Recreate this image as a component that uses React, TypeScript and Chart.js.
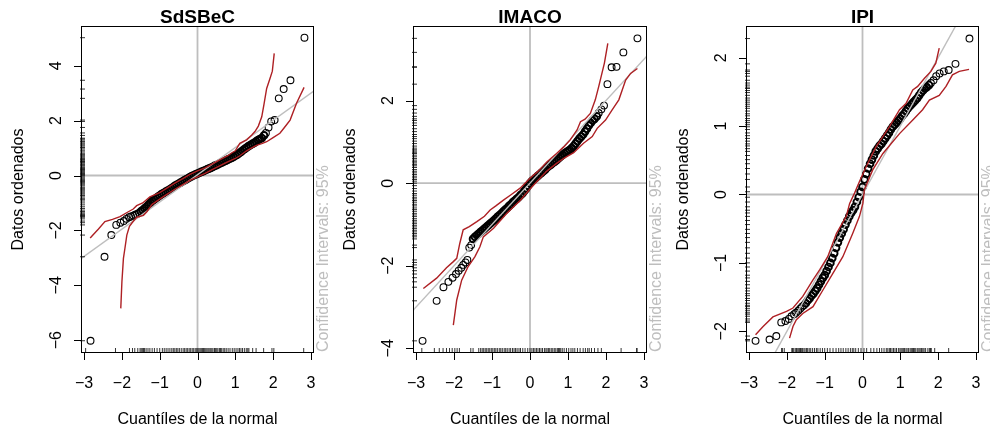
import React, { useEffect, useRef } from "react";
import { Chart, registerables } from "chart.js";
Chart.register(...registerables);

// Theoretical normal quantiles (x of every QQ point), shared by the three panels
const normalQuantiles = [
  -2.83, -2.46, -2.28, -2.15, -2.04, -1.95, -1.88, -1.81, -1.76, -1.70, -1.65, -1.60, -1.55, -1.50,
  -1.45, -1.40, -1.35, -1.30, -1.25, -1.20, -1.15, -1.10, -1.05, -1.00, -0.95, -0.90, -0.85, -0.80,
  -0.75, -0.70, -0.65, -0.60, -0.55, -0.50, -0.45, -0.40, -0.35, -0.30, -0.25, -0.20, -0.15, -0.10,
  -0.05, 0.00, 0.05, 0.10, 0.15, 0.20, 0.25, 0.30, 0.35, 0.40, 0.45, 0.50, 0.55, 0.60, 0.65, 0.70,
  0.75, 0.80, 0.85, 0.90, 0.95, 1.00, 1.05, 1.10, 1.15, 1.20, 1.25, 1.30, 1.35, 1.40, 1.45, 1.50,
  1.55, 1.60, 1.65, 1.70, 1.76, 1.81, 1.88, 1.95, 2.04, 2.15, 2.28, 2.46, 2.83,
];

// Ordered data per panel
const sdsbecValues = [
  -6.02, -2.96, -2.17, -1.80, -1.72, -1.66, -1.58, -1.52, -1.49, -1.46, -1.43, -1.40, -1.36, -1.31,
  -1.26, -1.20, -1.14, -1.07, -1.00, -0.93, -0.88, -0.83, -0.78, -0.73, -0.68, -0.64, -0.60, -0.56,
  -0.52, -0.48, -0.43, -0.38, -0.34, -0.30, -0.26, -0.22, -0.18, -0.14, -0.10, -0.06, -0.02, 0.01,
  0.04, 0.07, 0.10, 0.13, 0.16, 0.19, 0.22, 0.25, 0.28, 0.31, 0.35, 0.38, 0.41, 0.45, 0.48, 0.51,
  0.54, 0.58, 0.61, 0.64, 0.68, 0.72, 0.76, 0.81, 0.86, 0.92, 0.97, 1.02, 1.07, 1.11, 1.15, 1.19,
  1.24, 1.29, 1.33, 1.36, 1.46, 1.55, 1.75, 1.97, 2.02, 2.81, 3.15, 3.47, 5.02,
];
const imacoValues = [
  -3.82, -2.85, -2.52, -2.39, -2.29, -2.20, -2.12, -2.05, -1.98, -1.92, -1.86, -1.56, -1.50, -1.35,
  -1.30, -1.26, -1.22, -1.18, -1.14, -1.10, -1.06, -1.02, -0.98, -0.94, -0.90, -0.86, -0.81, -0.77,
  -0.73, -0.68, -0.64, -0.60, -0.55, -0.51, -0.46, -0.42, -0.38, -0.34, -0.29, -0.25, -0.19, -0.13,
  -0.06, 0.00, 0.05, 0.09, 0.13, 0.17, 0.21, 0.25, 0.29, 0.33, 0.38, 0.42, 0.45, 0.49, 0.52, 0.56,
  0.60, 0.64, 0.68, 0.72, 0.75, 0.78, 0.81, 0.85, 0.90, 0.96, 1.02, 1.08, 1.13, 1.18, 1.25, 1.32,
  1.40, 1.46, 1.52, 1.56, 1.62, 1.70, 1.79, 1.88, 2.40, 2.81, 2.82, 3.17, 3.51,
];
const ipiValues = [
  -2.14, -2.12, -2.07, -1.87, -1.85, -1.82, -1.78, -1.75, -1.73, -1.70, -1.67, -1.64, -1.62, -1.59,
  -1.55, -1.52, -1.48, -1.45, -1.41, -1.37, -1.32, -1.27, -1.22, -1.18, -1.12, -1.06, -1.00, -0.93,
  -0.86, -0.78, -0.70, -0.63, -0.57, -0.51, -0.44, -0.38, -0.32, -0.27, -0.23, -0.18, -0.11, -0.04,
  0.04, 0.11, 0.22, 0.30, 0.38, 0.45, 0.51, 0.57, 0.63, 0.67, 0.71, 0.74, 0.78, 0.82, 0.86, 0.90,
  0.95, 0.99, 1.02, 1.05, 1.08, 1.11, 1.15, 1.18, 1.22, 1.26, 1.29, 1.32, 1.35, 1.38, 1.41, 1.45,
  1.49, 1.52, 1.55, 1.57, 1.60, 1.63, 1.67, 1.73, 1.77, 1.80, 1.82, 1.91, 2.28,
];

// 95% confidence envelopes
const sdsbecUpperX = [-2.84, -2.62, -2.45, -2.25, -2.05, -1.83, -1.70, -1.61, -1.45, -1.26, -1.0, -0.8, -0.6, -0.4, -0.2, 0, 0.2, 0.4, 0.6, 0.8, 0.9, 1.0, 1.12, 1.30, 1.43, 1.52, 1.61, 1.70, 1.76, 1.83, 1.92, 1.98, 2.03];
const sdsbecUpperY = [-2.28, -1.95, -1.68, -1.60, -1.50, -1.32, -1.22, -1.10, -1.00, -0.78, -0.62, -0.45, -0.28, -0.12, 0.04, 0.17, 0.28, 0.42, 0.58, 0.72, 0.82, 0.90, 1.17, 1.30, 1.47, 1.60, 1.80, 2.14, 2.60, 3.17, 3.54, 3.80, 4.45];
const sdsbecLowerX = [-2.03, -2.00, -1.96, -1.92, -1.87, -1.80, -1.74, -1.61, -1.43, -1.34, -1.20, -1.0, -0.8, -0.6, -0.4, -0.2, 0, 0.2, 0.4, 0.6, 0.8, 1.0, 1.12, 1.30, 1.40, 1.56, 1.70, 1.83, 2.0, 2.18, 2.30, 2.45, 2.62, 2.82];
const sdsbecLowerY = [-4.84, -3.87, -3.02, -2.65, -2.17, -1.85, -1.74, -1.52, -1.45, -1.32, -1.05, -0.86, -0.68, -0.50, -0.34, -0.18, -0.05, 0.08, 0.22, 0.36, 0.50, 0.62, 0.72, 0.90, 0.98, 1.10, 1.16, 1.23, 1.38, 1.54, 1.75, 2.02, 2.63, 3.21];

const imacoUpperX = [-2.81, -2.46, -2.20, -2.02, -1.93, -1.85, -1.76, -1.60, -1.40, -1.20, -1.05, -0.90, -0.70, -0.50, -0.26, 0, 0.2, 0.45, 0.7, 0.89, 1.06, 1.24, 1.33, 1.45, 1.59, 1.72, 1.81, 1.96, 2.05];
const imacoUpperY = [-2.55, -2.30, -2.05, -1.90, -1.82, -1.46, -1.13, -1.05, -0.93, -0.80, -0.65, -0.55, -0.41, -0.28, -0.12, 0.12, 0.28, 0.52, 0.72, 0.88, 1.05, 1.29, 1.49, 1.55, 1.69, 2.02, 2.34, 2.91, 3.39];
const imacoLowerX = [-2.02, -1.97, -1.93, -1.80, -1.63, -1.45, -1.32, -1.23, -0.96, -0.61, -0.26, 0, 0.2, 0.45, 0.7, 0.89, 1.15, 1.41, 1.64, 1.77, 1.99, 2.16, 2.34, 2.52, 2.65, 2.83];
const imacoLowerY = [-3.44, -3.10, -2.83, -2.35, -2.02, -1.78, -1.54, -1.30, -1.09, -0.73, -0.42, -0.14, 0.06, 0.30, 0.48, 0.60, 0.74, 0.97, 1.13, 1.33, 1.53, 1.77, 2.02, 2.50, 2.66, 2.78];

const ipiUpperX = [-2.83, -2.63, -2.37, -2.01, -1.84, -1.58, -1.31, -1.13, -0.92, -0.69, -0.43, -0.34, -0.21, -0.08, 0.10, 0.36, 0.71, 0.98, 1.15, 1.33, 1.46, 1.64, 1.81, 1.94, 2.03];
const ipiUpperY = [-2.05, -1.93, -1.79, -1.71, -1.66, -1.49, -1.25, -1.10, -0.91, -0.57, -0.32, -0.13, 0.02, 0.19, 0.41, 0.70, 0.99, 1.24, 1.33, 1.53, 1.58, 1.70, 1.80, 1.92, 2.14];
const ipiLowerX = [-1.93, -1.84, -1.75, -1.58, -1.31, -1.05, -0.78, -0.52, -0.26, -0.08, 0.01, 0.05, 0.27, 0.54, 0.98, 1.33, 1.59, 1.77, 2.03, 2.21, 2.38, 2.56, 2.82];
const ipiLowerY = [-2.10, -1.93, -1.83, -1.74, -1.64, -1.40, -1.15, -0.91, -0.57, -0.32, -0.13, 0.07, 0.36, 0.60, 0.89, 1.09, 1.24, 1.38, 1.45, 1.58, 1.75, 1.80, 1.83];

// Reference lines (end points)
const sdsbecRefX = [-3.3, 3.3];
const sdsbecRefY = [-3.24, 3.30];
const imacoRefX = [-3.3, 3.3];
const imacoRefY = [-3.3, 3.3];
const ipiRefX = [-3.3, 3.3];
const ipiRefY = [-3.3, 3.3];

// Axis ticks and ranges
const xTicks = [-3, -2, -1, 0, 1, 2, 3];
const sdsbecYTicks = [-6, -4, -2, 0, 2, 4];
const imacoYTicks = [-4, -2, 0, 2];
const ipiYTicks = [-2, -1, 0, 1, 2];
const xRange = [-3.056, 3.056];
const sdsbecYRange = [-6.43, 5.41];
const imacoYRange = [-4.09, 3.785];
const ipiYRange = [-2.303, 2.449];

const titles = ["SdSBeC", "IMACO", "IPI"];
const xLabel = "Cuantíles de la normal";
const yLabel = "Datos ordenados";
const ciLabel = "Confidence Intervals: 95%";

const W = 990;
const H = 429;
const FONT = "'Liberation Sans', Arial, Helvetica, sans-serif";

const panels = [
  { title: titles[0], values: sdsbecValues, ux: sdsbecUpperX, uy: sdsbecUpperY, lx: sdsbecLowerX, ly: sdsbecLowerY, rx: sdsbecRefX, ry: sdsbecRefY, yTicks: sdsbecYTicks, yRange: sdsbecYRange, left: 82, right: 313 },
  { title: titles[1], values: imacoValues, ux: imacoUpperX, uy: imacoUpperY, lx: imacoLowerX, ly: imacoLowerY, rx: imacoRefX, ry: imacoRefY, yTicks: imacoYTicks, yRange: imacoYRange, left: 414, right: 646 },
  { title: titles[2], values: ipiValues, ux: ipiUpperX, uy: ipiUpperY, lx: ipiLowerX, ly: ipiLowerY, rx: ipiRefX, ry: ipiRefY, yTicks: ipiYTicks, yRange: ipiYRange, left: 747, right: 978 },
];

const zip = (xs: number[], ys: number[]) => xs.map((x, i) => ({ x, y: ys[i] }));
const fmt = (v: number) => (v < 0 ? "\u2212" + String(-v) : String(v));

function makePlugin(p: any) {
  return {
    id: "rstyle",
    afterDraw(chart: any) {
      const { ctx, chartArea: a, scales } = chart;
      const xs = scales.x;
      const ys = scales.y;
      ctx.save();
      // rugs
      ctx.strokeStyle = "#000";
      ctx.lineWidth = 0.8;
      ctx.beginPath();
      for (const v of p.values) {
        const py = ys.getPixelForValue(v);
        if (py >= a.top && py <= a.bottom) {
          ctx.moveTo(a.left - 2, py);
          ctx.lineTo(a.left + 3, py);
        }
        const px = xs.getPixelForValue(v);
        if (px >= a.left && px <= a.right) {
          ctx.moveTo(px, a.bottom + 0.5);
          ctx.lineTo(px, a.bottom - 4);
        }
      }
      ctx.stroke();
      // box
      ctx.lineWidth = 1;
      ctx.strokeStyle = "#000";
      ctx.strokeRect(Math.round(a.left) - 0.5, Math.round(a.top) - 0.5, Math.round(a.right) - Math.round(a.left) + 1, Math.round(a.bottom) - Math.round(a.top) + 1);
      // axis ticks
      ctx.beginPath();
      for (const t of xTicks) {
        const px = Math.round(xs.getPixelForValue(t)) + 0.5;
        ctx.moveTo(px, a.bottom);
        ctx.lineTo(px, a.bottom + 8);
      }
      for (const t of p.yTicks) {
        const py = Math.round(ys.getPixelForValue(t)) + 0.5;
        ctx.moveTo(a.left, py);
        ctx.lineTo(a.left - 8, py);
      }
      ctx.stroke();
      ctx.fillStyle = "#000";
      ctx.font = `16px ${FONT}`;
      ctx.textAlign = "center";
      ctx.textBaseline = "alphabetic";
      for (const t of xTicks) {
        ctx.fillText(fmt(t), xs.getPixelForValue(t), a.bottom + 35.5);
      }
      for (const t of p.yTicks) {
        ctx.save();
        ctx.translate(a.left - 21.5, ys.getPixelForValue(t));
        ctx.rotate(-Math.PI / 2);
        ctx.fillText(fmt(t), 0, 0);
        ctx.restore();
      }
      // axis titles
      const cx = (a.left + a.right) / 2;
      const cy = (a.top + a.bottom) / 2;
      ctx.fillText(xLabel, cx, 424);
      ctx.save();
      ctx.translate(a.left - 59, cy);
      ctx.rotate(-Math.PI / 2);
      ctx.fillText(yLabel, 0, 0);
      ctx.restore();
      // CI label
      ctx.save();
      ctx.fillStyle = "#BEBEBE";
      ctx.translate(a.right + 15, a.bottom);
      ctx.rotate(-Math.PI / 2);
      ctx.textAlign = "left";
      ctx.fillText(ciLabel, 0, 0);
      ctx.restore();
      // title
      ctx.font = `bold 19px ${FONT}`;
      ctx.fillText(p.title, cx, 22.5);
      ctx.restore();
    },
  };
}

function Panel({ p }: { p: any }) {
  const ref = useRef<HTMLCanvasElement | null>(null);
  useEffect(() => {
    if (!ref.current) return;
    const chart = new Chart(ref.current, {
      type: "scatter",
      data: {
        datasets: [
          {
            data: zip(p.lx, p.ly),
            showLine: true,
            borderColor: "#AE2024",
            borderWidth: 1.4,
            pointRadius: 0,
            order: 0,
          },
          {
            data: zip(p.ux, p.uy),
            showLine: true,
            borderColor: "#AE2024",
            borderWidth: 1.4,
            pointRadius: 0,
            order: 0,
          },
          {
            data: zip(p.rx, p.ry),
            showLine: true,
            borderColor: "#BEBEBE",
            borderWidth: 1.4,
            pointRadius: 0,
            order: 1,
          },
          {
            data: zip(normalQuantiles, p.values),
            showLine: false,
            pointStyle: "circle",
            pointRadius: 3.4,
            pointBorderColor: "#000",
            pointBorderWidth: (c: any) => (c.dataIndex >= 13 && c.dataIndex <= 78 ? 1.9 : 1.1),
            pointBackgroundColor: "rgba(0,0,0,0)",
            borderColor: "#000",
            backgroundColor: "rgba(0,0,0,0)",
            order: 2,
          },
          {
            data: [{ x: 0, y: -20 }, { x: 0, y: 20 }],
            showLine: true,
            borderColor: "#BEBEBE",
            borderWidth: 1.8,
            pointRadius: 0,
            order: 3,
          },
          {
            data: [{ x: -20, y: 0 }, { x: 20, y: 0 }],
            showLine: true,
            borderColor: "#BEBEBE",
            borderWidth: 1.8,
            pointRadius: 0,
            order: 3,
          },
        ],
      },
      options: {
        animation: false,
        responsive: false,
        devicePixelRatio: 1,
        events: [],
        layout: { padding: { left: p.left, right: W - p.right, top: 27, bottom: 77 } },
        scales: {
          x: { type: "linear", min: xRange[0], max: xRange[1], display: false },
          y: { type: "linear", min: p.yRange[0], max: p.yRange[1], display: false },
        },
        plugins: { legend: { display: false }, tooltip: { enabled: false }, title: { display: false } },
      },
      plugins: [makePlugin(p)],
    } as any);
    return () => chart.destroy();
  }, [p]);
  return <canvas ref={ref} width={W} height={H} style={{ position: "absolute", left: 0, top: 0, width: W, height: H }} />;
}

export default function App() {
  return (
    <div style={{ position: "fixed", left: 0, top: 0, width: W, height: H, background: "#fff", overflow: "hidden" }}>
      {panels.map((p, i) => (
        <Panel key={i} p={p} />
      ))}
    </div>
  );
}
